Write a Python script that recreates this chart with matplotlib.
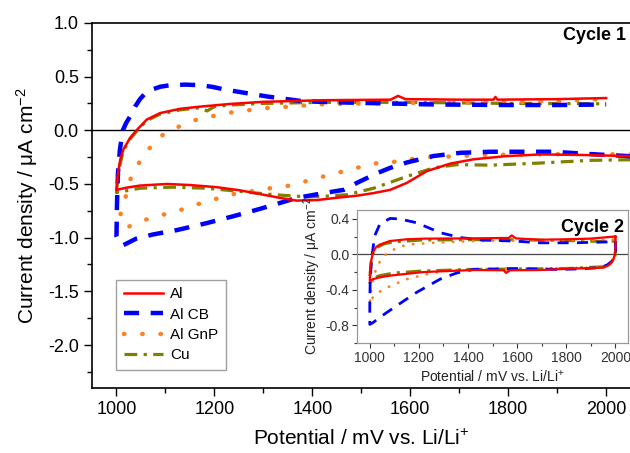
import matplotlib
matplotlib.use("Agg")
import matplotlib.pyplot as plt
from matplotlib.ticker import MultipleLocator

plt.rcParams['font.family'] = ['Liberation Sans', 'DejaVu Sans']
plt.rcParams['mathtext.default'] = 'regular'

labels = ["Al", "Al CB", "Al GnP", "Cu"]
colors = ["#ff0000", "#0000ff", "#ff8020", "#808000"]

# ---- Cycle 1 (main) ----
al_c1_x = [2060, 2043, 1950, 1866, 1798, 1730, 1682, 1634, 1593, 1559, 1525, 1490, 1457, 1409, 1368, 1334, 1300, 1253, 1205, 1150, 1103, 1048, 1020, 1000,
           1002, 1004, 1008, 1014, 1028, 1041, 1062, 1089, 1130, 1171, 1232, 1300, 1423, 1560, 1575, 1590, 1700, 1770, 1774, 1778, 1900, 2000]
al_c1_y = [-0.24, -0.24, -0.23, -0.225, -0.24, -0.27, -0.31, -0.38, -0.49, -0.555, -0.585, -0.61, -0.625, -0.65, -0.655, -0.63, -0.60, -0.56, -0.53, -0.51, -0.50, -0.515, -0.535, -0.555,
           -0.45, -0.37, -0.27, -0.18, -0.07, 0.0, 0.10, 0.16, 0.20, 0.22, 0.245, 0.265, 0.28, 0.285, 0.32, 0.29, 0.285, 0.285, 0.31, 0.285, 0.29, 0.30]

cb_c1_x = [2060, 2043, 1960, 1893, 1825, 1764, 1702, 1647, 1593, 1559, 1532, 1491, 1464, 1423, 1368, 1328, 1287, 1239, 1184, 1123, 1075, 1040, 1014, 1003, 1000,
           1001, 1003, 1007, 1013, 1020, 1028, 1038, 1048, 1058, 1070, 1089, 1110, 1140, 1170, 1195, 1220, 1260, 1307, 1381, 1450, 1550, 1650, 1800, 1900, 2000]
cb_c1_y = [-0.25, -0.24, -0.22, -0.20, -0.20, -0.20, -0.21, -0.24, -0.30, -0.35, -0.40, -0.49, -0.555, -0.585, -0.63, -0.685, -0.74, -0.80, -0.865, -0.93, -0.97, -1.01, -1.07, -1.03, -0.99,
           -0.70, -0.40, -0.18, 0.0, 0.07, 0.13, 0.22, 0.29, 0.34, 0.375, 0.405, 0.42, 0.425, 0.42, 0.405, 0.38, 0.35, 0.315, 0.27, 0.26, 0.25, 0.24, 0.235, 0.235, 0.24]

gnp_c1_x = [2060, 2043, 1950, 1850, 1750, 1675, 1641, 1600, 1566, 1525, 1491, 1457, 1423, 1382, 1348, 1314, 1273, 1232, 1195, 1157, 1120, 1082, 1048, 1024, 1005, 1000,
            1005, 1010, 1017, 1028, 1045, 1067, 1092, 1128, 1164, 1205, 1239, 1276, 1314, 1355, 1409, 1500, 1600, 1800, 1900, 2000]
gnp_c1_y = [-0.22, -0.225, -0.22, -0.225, -0.23, -0.245, -0.25, -0.27, -0.295, -0.31, -0.35, -0.39, -0.43, -0.48, -0.52, -0.54, -0.57, -0.60, -0.65, -0.70, -0.76, -0.80, -0.85, -0.90, -0.95, -0.97,
            -0.85, -0.75, -0.65, -0.46, -0.31, -0.17, -0.05, 0.035, 0.10, 0.14, 0.17, 0.19, 0.21, 0.22, 0.24, 0.25, 0.255, 0.26, 0.27, 0.29]

cu_c1_x = [2060, 2043, 1968, 1866, 1764, 1696, 1648, 1593, 1525, 1471, 1423, 1389, 1321, 1253, 1184, 1116, 1048, 1000,
           1004, 1014, 1028, 1041, 1062, 1089, 1130, 1171, 1185, 1200, 1232, 1300, 1423, 1600, 1800, 2000]
cu_c1_y = [-0.275, -0.275, -0.28, -0.305, -0.325, -0.32, -0.35, -0.43, -0.54, -0.60, -0.615, -0.62, -0.60, -0.57, -0.54, -0.53, -0.54, -0.58,
           -0.38, -0.19, -0.08, -0.01, 0.09, 0.15, 0.19, 0.21, 0.18, 0.22, 0.235, 0.25, 0.26, 0.26, 0.25, 0.247]

# ---- Cycle 2 (inset) ----
al_c2_x = [2000, 2001, 1998, 1990, 1975, 1952, 1830, 1694, 1570, 1555, 1545, 1422, 1300, 1218, 1150, 1082, 1040, 1013, 1000,
           1001, 1005, 1013, 1025, 1041, 1082, 1150, 1218, 1400, 1565, 1578, 1595, 1694, 1800, 1898, 1993, 2000]
al_c2_y = [0.20, 0.10, 0.0, -0.07, -0.12, -0.15, -0.16, -0.177, -0.18, -0.21, -0.18, -0.177, -0.19, -0.20, -0.22, -0.24, -0.26, -0.28, -0.30,
           -0.20, -0.08, 0.02, 0.08, 0.11, 0.15, 0.17, 0.177, 0.18, 0.185, 0.214, 0.18, 0.165, 0.17, 0.177, 0.20, 0.20]

cb_c2_x = [2000, 2001, 1998, 1985, 1966, 1939, 1850, 1762, 1585, 1422, 1354, 1286, 1190, 1109, 1041, 1013, 1000,
           1000, 1002, 1007, 1020, 1041, 1082, 1120, 1190, 1286, 1367, 1463, 1585, 1694, 1830, 1966, 2000]
cb_c2_y = [0.15, 0.05, -0.02, -0.08, -0.12, -0.15, -0.165, -0.17, -0.16, -0.17, -0.21, -0.28, -0.43, -0.58, -0.71, -0.77, -0.79,
           -0.50, -0.28, -0.056, 0.21, 0.34, 0.405, 0.40, 0.357, 0.245, 0.19, 0.16, 0.15, 0.13, 0.13, 0.14, 0.15]

gnp_c2_x = [2000, 2001, 1998, 1985, 1960, 1900, 1700, 1500, 1400, 1300, 1231, 1150, 1082, 1041, 1013, 1000,
            1003, 1007, 1015, 1027, 1050, 1082, 1150, 1259, 1422, 1600, 1800, 1950, 2000]
gnp_c2_y = [0.17, 0.05, -0.02, -0.09, -0.13, -0.15, -0.16, -0.165, -0.17, -0.19, -0.225, -0.28, -0.36, -0.42, -0.48, -0.56,
            -0.45, -0.39, -0.27, -0.15, -0.04, 0.037, 0.11, 0.13, 0.15, 0.155, 0.16, 0.165, 0.17]

cu_c2_x = [2000, 2001, 1998, 1988, 1970, 1950, 1800, 1600, 1400, 1300, 1200, 1100, 1041, 1013, 1000,
           1002, 1006, 1013, 1030, 1060, 1100, 1200, 1400, 1600, 1800, 1950, 2000]
cu_c2_y = [0.15, 0.05, -0.02, -0.08, -0.12, -0.14, -0.16, -0.165, -0.17, -0.18, -0.19, -0.21, -0.24, -0.27, -0.32,
           -0.20, -0.08, 0.01, 0.08, 0.12, 0.14, 0.16, 0.165, 0.165, 0.155, 0.145, 0.15]

main_xticks = [1000, 1200, 1400, 1600, 1800, 2000]
main_yticks = [-2.0, -1.5, -1.0, -0.5, 0.0, 0.5, 1.0]
inset_xticks = [1000, 1200, 1400, 1600, 1800, 2000]
inset_yticks = [-0.8, -0.4, 0.0, 0.4]

fig = plt.figure(figsize=(6.3, 4.53), dpi=100)
ax = fig.add_axes([0.146, 0.1435, 0.855, 0.806])

styles_main = [
    dict(ls='-', lw=1.8),
    dict(ls=(0, (3.4, 2.6)), lw=3.2),
    dict(ls=(0, (0.1, 4.0)), lw=3.2, dash_capstyle='round'),
    dict(ls=(0, (4, 2, 1, 2)), lw=2.3),
]
series_c1 = [(al_c1_x, al_c1_y), (cb_c1_x, cb_c1_y), (gnp_c1_x, gnp_c1_y), (cu_c1_x, cu_c1_y)]
order = [3, 2, 1, 0]
handles = {}
for i in order:
    x, y = series_c1[i]
    ln, = ax.plot(x, y, color=colors[i], label=labels[i], zorder=3 + (3 - i), **styles_main[i])
    handles[i] = ln

ax.axhline(0, color='black', lw=1.0, zorder=2)
ax.set_xlim(950, 2050)
ax.set_ylim(-2.4, 1.0)
ax.set_xticks(main_xticks)
ax.set_yticks(main_yticks)
ax.set_yticklabels([f"{v:.1f}" for v in main_yticks])
ax.xaxis.set_minor_locator(MultipleLocator(100))
ax.yaxis.set_minor_locator(MultipleLocator(0.25))
ax.tick_params(which='major', direction='out', length=6, width=1, labelsize=13, top=False, right=False)
ax.tick_params(which='minor', direction='out', length=3.5, width=1, top=False, right=False)
ax.spines['right'].set_visible(False)
for s in ['left', 'bottom', 'top']:
    ax.spines[s].set_linewidth(1.2)
ax.set_xlabel("Potential / mV vs. Li/Li$^{+}$", fontsize=15, labelpad=8)
ax.set_ylabel("Current density / μA cm$^{-2}$", fontsize=15, labelpad=6)
ax.text(0.992, 0.965, "Cycle 1", transform=ax.transAxes, ha='right', va='center',
        fontsize=13, fontweight='bold')

leg = ax.legend([handles[i] for i in range(4)], labels, loc='lower left',
                bbox_to_anchor=(0.0446, 0.049), borderaxespad=0, fontsize=11, frameon=True,
                fancybox=False, edgecolor='#888888', handlelength=2.6, borderpad=0.5,
                labelspacing=0.42, handletextpad=0.45)
leg.get_frame().set_linewidth(1.0)

# ---- inset ----
axi = fig.add_axes([0.5667, 0.2428, 0.4304, 0.2936])
styles_in = [
    dict(ls='-', lw=1.6),
    dict(ls=(0, (4, 3)), lw=2.0),
    dict(ls=(0, (0.1, 3.5)), lw=2.0, dash_capstyle='round'),
    dict(ls=(0, (5, 2, 1, 2)), lw=2.2),
]
series_c2 = [(al_c2_x, al_c2_y), (cb_c2_x, cb_c2_y), (gnp_c2_x, gnp_c2_y), (cu_c2_x, cu_c2_y)]
for i in order:
    x, y = series_c2[i]
    axi.plot(x, y, color=colors[i], zorder=3 + (3 - i), **styles_in[i])
axi.axhline(0, color='#444444', lw=0.9, zorder=2)
axi.set_xlim(948, 2052)
axi.set_ylim(-1.0, 0.5)
axi.set_xticks(inset_xticks)
axi.set_yticks(inset_yticks)
axi.set_yticklabels([f"{v:.1f}" for v in inset_yticks])
axi.xaxis.set_minor_locator(MultipleLocator(100))
axi.yaxis.set_minor_locator(MultipleLocator(0.2))
axi.tick_params(which='major', direction='out', length=3.5, width=0.8, labelsize=10,
                colors='#333333', pad=2)
axi.tick_params(which='minor', direction='out', length=2, width=0.8, colors='#333333')
for s in axi.spines.values():
    s.set_color('#999999')
    s.set_linewidth(0.9)
axi.set_xlabel("Potential / mV vs. Li/Li$^{+}$", fontsize=10, labelpad=3, color='#222222')
axi.set_ylabel("Current density / μA cm$^{-2}$", fontsize=10, labelpad=2, color='#222222')
axi.text(0.985, 0.93, "Cycle 2", transform=axi.transAxes, ha='right', va='top',
         fontsize=13, fontweight='bold')

fig.savefig("out.png", dpi=100)
